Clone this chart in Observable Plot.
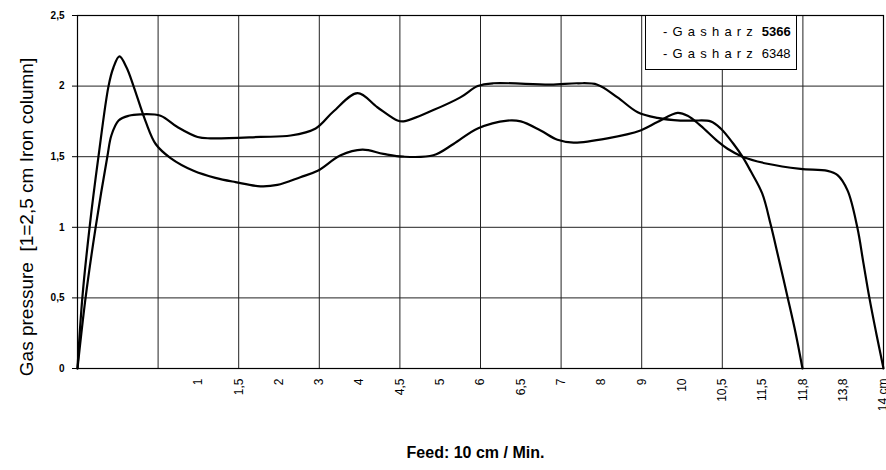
<!DOCTYPE html>
<html><head><meta charset="utf-8">
<script src="https://cdn.jsdelivr.net/npm/d3@7"></script>
<script src="https://cdn.jsdelivr.net/npm/@observablehq/plot@0.6"></script>
<style>
body{margin:0;background:#fff;}
#wrap{position:relative;width:886px;height:470px;}
#legend{position:absolute;left:645px;top:15px;width:150px;height:53px;border:1px solid #000;background:#fff;font:13px "Liberation Sans",Arial,sans-serif;color:#000;}
#legend .row{position:absolute;left:17px;white-space:nowrap;}
#legend .sp{letter-spacing:5.2px;}
</style></head><body><div id="wrap"></div>
<script>
// x positions are half-step slots (0..20) of the original category axis
const xTickPos = [3,4,5,6,7,8,9,10,11,12,13,14,15,16,17,18,19,20];
const xTickLabels = ["1","1,5","2","3","4","4,5","5","6","6,5","7","8","9","10","10,5","11,5","11,8","13,8","14 cm"];
const xGrid = [0,2,4,6,8,10,12,14,16,18,20];
const yTicks = [0,0.5,1,1.5,2,2.5];
const yTickLabels = ["0","0,5","1","1,5","2","2,5"];
const seriesNames = ["Gasharz 5366","Gasharz 6348"];

const xA = [0,0.12,0.30,0.52,0.77,0.89,1.04,1.22,1.39,1.69,1.94,2.31,2.88,3.42,3.92,4.54,4.96,5.53,5.96,6.53,7.07,7.59,8.09,8.83,9.33,9.93,10.67,11.0,11.49,11.91,12.31,13.15,13.97,14.39,14.89,15.14,15.46,15.88,16.13,16.50,17.12,17.94,18.61,18.86,19.11,19.35,19.50,19.65,19.82,20.0];
const yA = [0,0.5,1.0,1.5,2.0,2.13,2.21,2.13,2.0,1.75,1.59,1.49,1.40,1.35,1.32,1.29,1.30,1.355,1.40,1.51,1.55,1.52,1.50,1.51,1.59,1.70,1.756,1.75,1.686,1.62,1.60,1.63,1.686,1.745,1.81,1.79,1.72,1.61,1.556,1.50,1.45,1.414,1.40,1.37,1.26,1.0,0.75,0.5,0.25,0];

const xB = [0,0.20,0.45,0.74,0.84,1.02,1.27,1.56,2.06,2.48,2.98,3.30,4.54,5.29,5.91,6.35,6.95,7.44,7.94,8.09,8.83,9.50,9.93,10.32,11.74,12.41,12.90,13.40,13.90,14.39,14.96,15.29,15.71,15.96,16.28,16.50,16.70,16.99,17.20,17.39,17.62,17.82,17.99];
const yB = [0,0.5,1.0,1.5,1.65,1.756,1.79,1.80,1.79,1.71,1.64,1.63,1.64,1.65,1.70,1.82,1.95,1.85,1.756,1.75,1.83,1.92,2.0,2.02,2.01,2.02,2.01,1.92,1.815,1.775,1.756,1.756,1.75,1.70,1.59,1.50,1.40,1.24,1.02,0.79,0.505,0.25,0];

const yLabel = "Gas pressure  [1=2,5 cm Iron column]";
const xLabel = "Feed: 10 cm / Min.";

const data = [
  ...xA.map((x,i)=>({s:seriesNames[0],x,y:yA[i]})),
  ...xB.map((x,i)=>({s:seriesNames[1],x,y:yB[i]}))
];

const chart = Plot.plot({
  width:886, height:470,
  marginLeft:77, marginRight:3, marginTop:15, marginBottom:102,
  x:{domain:[0,20]},
  y:{domain:[0,2.5]},
  style:{fontFamily:"'Liberation Sans', Arial, sans-serif", color:"#000", background:"#fff", overflow:"visible"},
  marks:[
    Plot.gridX(xGrid, {stroke:"#222", strokeOpacity:1, strokeWidth:1}),
    Plot.gridY(yTicks, {stroke:"#222", strokeOpacity:1, strokeWidth:1}),
    Plot.frame({stroke:"#000", strokeWidth:1.2}),
    Plot.axisY(yTicks, {tickFormat:(d)=>yTickLabels[yTicks.indexOf(d)], tickSize:5, tickPadding:8, fontSize:10, fontWeight:"bold", label:null}),
    Plot.axisX(xTickPos, {tickFormat:(d)=>xTickLabels[xTickPos.indexOf(d)], tickRotate:-90, tickSize:0, tickPadding:10, fontSize:12, label:null}),
    Plot.line(data, {x:"x", y:"y", z:"s", stroke:"#000", strokeWidth:2.2, curve:"catmull-rom"}),
    Plot.text([yLabel], {text:d=>d, frameAnchor:"left", textAnchor:"middle", rotate:-90, dx:-51, dy:25, fontSize:19, fill:"#000"}),
    Plot.text([xLabel], {text:d=>d, frameAnchor:"bottom", textAnchor:"middle", dx:-5, dy:89, fontSize:16, fontWeight:"bold", fill:"#000"})
  ]
});
const wrap = document.getElementById("wrap");
wrap.appendChild(chart);
const leg = document.createElement("div");
leg.id = "legend";
leg.innerHTML = `<div class="row" style="top:8px"><span class="sp">-Gasharz</span> <b>${seriesNames[0].split(" ")[1]}</b></div>
<div class="row" style="top:30px"><span class="sp">-Gasharz</span> ${seriesNames[1].split(" ")[1]}</div>`;
wrap.appendChild(leg);
</script>
</body></html>
